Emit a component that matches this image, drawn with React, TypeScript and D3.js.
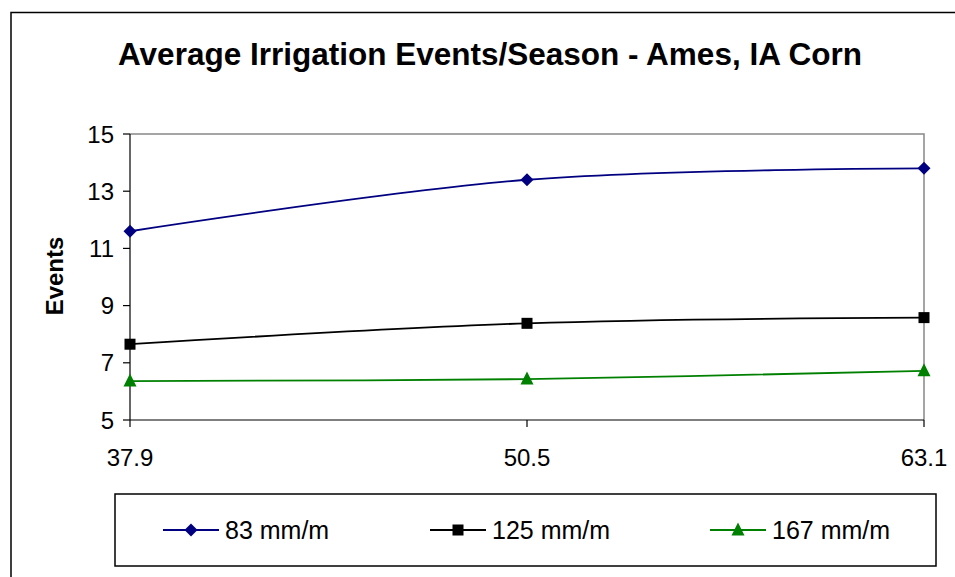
import React from "react";
import * as d3 from "d3";

const xValues = [37.9, 50.5, 63.1];
const xTickLabels = ["37.9", "50.5", "63.1"];
const yTicks = [5, 7, 9, 11, 13, 15];
const series83 = [11.6, 13.4, 13.8];
const series125 = [7.65, 8.38, 8.58];
const series167 = [6.36, 6.43, 6.72];
const seriesNames = ["83 mm/m", "125 mm/m", "167 mm/m"];

const FONT = "'Liberation Sans', Arial, sans-serif";

export default function App() {
  const W = 955, H = 577;
  const left = 130, right = 924, top = 134, bottom = 420;
  const x = d3.scaleLinear().domain([37.9, 63.1]).range([left, right]);
  const y = d3.scaleLinear().domain([5, 15]).range([bottom, top]);

  const seriesList = [
    { name: seriesNames[0], values: series83, color: "#000080", marker: "diamond" },
    { name: seriesNames[1], values: series125, color: "#000000", marker: "square" },
    { name: seriesNames[2], values: series167, color: "#008000", marker: "triangle" },
  ];

  const line = d3
    .line<[number, number]>()
    .x((d) => x(d[0]))
    .y((d) => y(d[1]))
    .curve(d3.curveCatmullRom.alpha(0.5));

  const marker = (kind: string, cx: number, cy: number, color: string, key?: string) => {
    if (kind === "diamond") {
      const s = 6.5;
      return (
        <path key={key} d={`M${cx},${cy - s}L${cx + s},${cy}L${cx},${cy + s}L${cx - s},${cy}Z`} fill={color} />
      );
    }
    if (kind === "square") {
      const s = 5.5;
      return <rect key={key} x={cx - s} y={cy - s} width={2 * s} height={2 * s} fill={color} />;
    }
    const s = 6.5;
    return (
      <path key={key} d={`M${cx},${cy - s - 1}L${cx + s},${cy + s - 1}L${cx - s},${cy + s - 1}Z`} fill={color} />
    );
  };

  const legendX = [163, 430, 710];
  const legendY = 530;

  return (
    <svg width={W} height={H} style={{ position: "absolute", left: 0, top: 0 }} fontFamily={FONT}>
      <rect x={0} y={0} width={W} height={H} fill="#fff" />
      {/* outer frame */}
      <path d={`M11,${H + 5}L11,12.5L${W + 5},12.5`} fill="none" stroke="#000" strokeWidth={1.5} />
      {/* title */}
      <text x={490} y={65} textAnchor="middle" fontSize={31.5} fontWeight="bold" fill="#000">
        Average Irrigation Events/Season - Ames, IA Corn
      </text>
      {/* plot border */}
      <path d={`M${left},${top}L${right},${top}L${right},${bottom}`} fill="none" stroke="#888" strokeWidth={1.5} />
      {/* axes */}
      <line x1={left} y1={top} x2={left} y2={bottom} stroke="#000" strokeWidth={1.2} />
      <line x1={left} y1={bottom} x2={right} y2={bottom} stroke="#000" strokeWidth={1.2} />
      {yTicks.map((t) => (
        <g key={t}>
          <line x1={left - 7} x2={left} y1={y(t)} y2={y(t)} stroke="#000" strokeWidth={1.2} />
          <text x={114} y={y(t) + 8.5} textAnchor="end" fontSize={24} fill="#000">
            {t}
          </text>
        </g>
      ))}
      {xValues.map((v, i) => (
        <g key={v}>
          <line x1={x(v)} x2={x(v)} y1={bottom} y2={bottom + 7} stroke="#000" strokeWidth={1.2} />
          <text x={x(v)} y={466} textAnchor="middle" fontSize={24} fill="#000">
            {xTickLabels[i]}
          </text>
        </g>
      ))}
      <text
        transform={`translate(63,276) rotate(-90)`}
        textAnchor="middle"
        fontSize={24}
        fontWeight="bold"
        fill="#000"
      >
        Events
      </text>
      {/* series */}
      {seriesList.map((s) => {
        const pts = xValues.map((v, i) => [v, s.values[i]] as [number, number]);
        return (
          <g key={s.name}>
            <path d={line(pts) || ""} fill="none" stroke={s.color} strokeWidth={1.8} />
            {pts.map((p, i) => marker(s.marker, x(p[0]), y(p[1]), s.color, `${s.name}-${i}`))}
          </g>
        );
      })}
      {/* legend */}
      <rect x={115} y={494} width={821} height={72} fill="none" stroke="#000" strokeWidth={1.5} />
      {seriesList.map((s, i) => (
        <g key={s.name}>
          <line x1={legendX[i]} x2={legendX[i] + 56} y1={legendY} y2={legendY} stroke={s.color} strokeWidth={1.8} />
          {marker(s.marker, legendX[i] + 28, legendY, s.color)}
          <text x={legendX[i] + 62} y={legendY + 6.5 + 2} fontSize={25} fill="#000">
            {s.name}
          </text>
        </g>
      ))}
    </svg>
  );
}
